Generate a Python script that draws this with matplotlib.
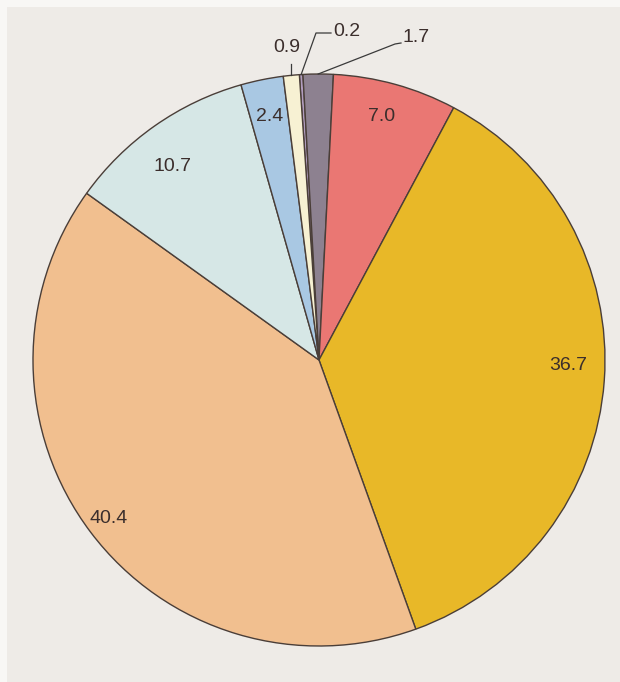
import numpy as np
import matplotlib
matplotlib.use("Agg")
import matplotlib.pyplot as plt
from matplotlib.patches import Rectangle

# ------------------------------------------------------------------
# Dados (sentido horário a partir da fatia fina no topo)
# ------------------------------------------------------------------
values = [0.2, 1.7, 7.0, 36.7, 40.4, 10.7, 2.4, 0.9]
labels = ["0.2", "1.7", "7.0", "36.7", "40.4", "10.7", "2.4", "0.9"]
colors = ["#b09cbd", "#8d8190", "#ea7773", "#e8b828",
          "#f1bf8f", "#d6e7e6", "#a9c8e3", "#f7f1d3"]

# rótulos internos: raio relativo e pequeno ajuste de ângulo (graus)
inner_idx = [2, 3, 4, 5, 6]
inner_rad = [0.88, 0.87, 0.92, 0.85, 0.87]
inner_shift = [1.0, 3.0, 0.0, 2.0, 0.0]

W, H = 620, 682
CX, CY, R = 319, 360, 286      # em pixels da imagem (y para baixo)
TXT = "#3b2e2c"
EDGE = "#4a3e38"

fig = plt.figure(figsize=(W / 100, H / 100), dpi=100)
fig.patch.set_facecolor("#f8f7f5")
ax = fig.add_axes([0, 0, 1, 1])
ax.set_xlim(0, W)
ax.set_ylim(0, H)
ax.set_aspect("equal")
ax.axis("off")

# fundo da foto (papel levemente acinzentado, borda branca em cima/esquerda)
ax.add_patch(Rectangle((7, 0), W - 7, H - 7, facecolor="#eeebe7",
                       edgecolor="none", zorder=0))


def py(y):
    return H - y


start = 90 + (values[0] + values[1]) * 3.6 - 2.9
wedges, _ = ax.pie(values, colors=colors, startangle=start, counterclock=False,
                   center=(CX, py(CY)), radius=R, frame=True,
                   wedgeprops=dict(edgecolor=EDGE, linewidth=1.0))
ax.set_xlim(0, W)
ax.set_ylim(0, H)
ax.axis("off")

font = dict(family=["Liberation Sans", "DejaVu Sans"], fontsize=14, color=TXT)

for i, rf, sh in zip(inner_idx, inner_rad, inner_shift):
    w = wedges[i]
    a = np.deg2rad((w.theta1 + w.theta2) / 2 + sh)
    ax.text(CX + rf * R * np.cos(a), py(CY) + rf * R * np.sin(a), labels[i],
            ha="center", va="center", **font)


def edge_point(w):
    a = np.deg2rad((w.theta1 + w.theta2) / 2)
    return CX + R * np.cos(a), py(CY) + R * np.sin(a)


# 0.2 -> linha inclinada + traço horizontal
x0, y0 = edge_point(wedges[0])
ax.plot([x0, 316, 331], [y0, py(33), py(33)], color="#3a3a3a", lw=0.9)
ax.text(333, py(32), labels[0], ha="left", va="center", **font)

# 1.7
x0, y0 = edge_point(wedges[1])
ax.plot([x0, 395, 401], [y0, py(44), py(43)], color="#3a3a3a", lw=0.9)
ax.text(402, py(37), labels[1], ha="left", va="center", **font)

# 0.9 -> tracinho vertical
x0, y0 = edge_point(wedges[7])
ax.plot([x0, x0], [y0, y0 + 11], color="#3a3a3a", lw=0.9)
ax.text(287, py(47), labels[7], ha="center", va="center", **font)

fig.savefig("out.png", dpi=100, facecolor=fig.get_facecolor())
